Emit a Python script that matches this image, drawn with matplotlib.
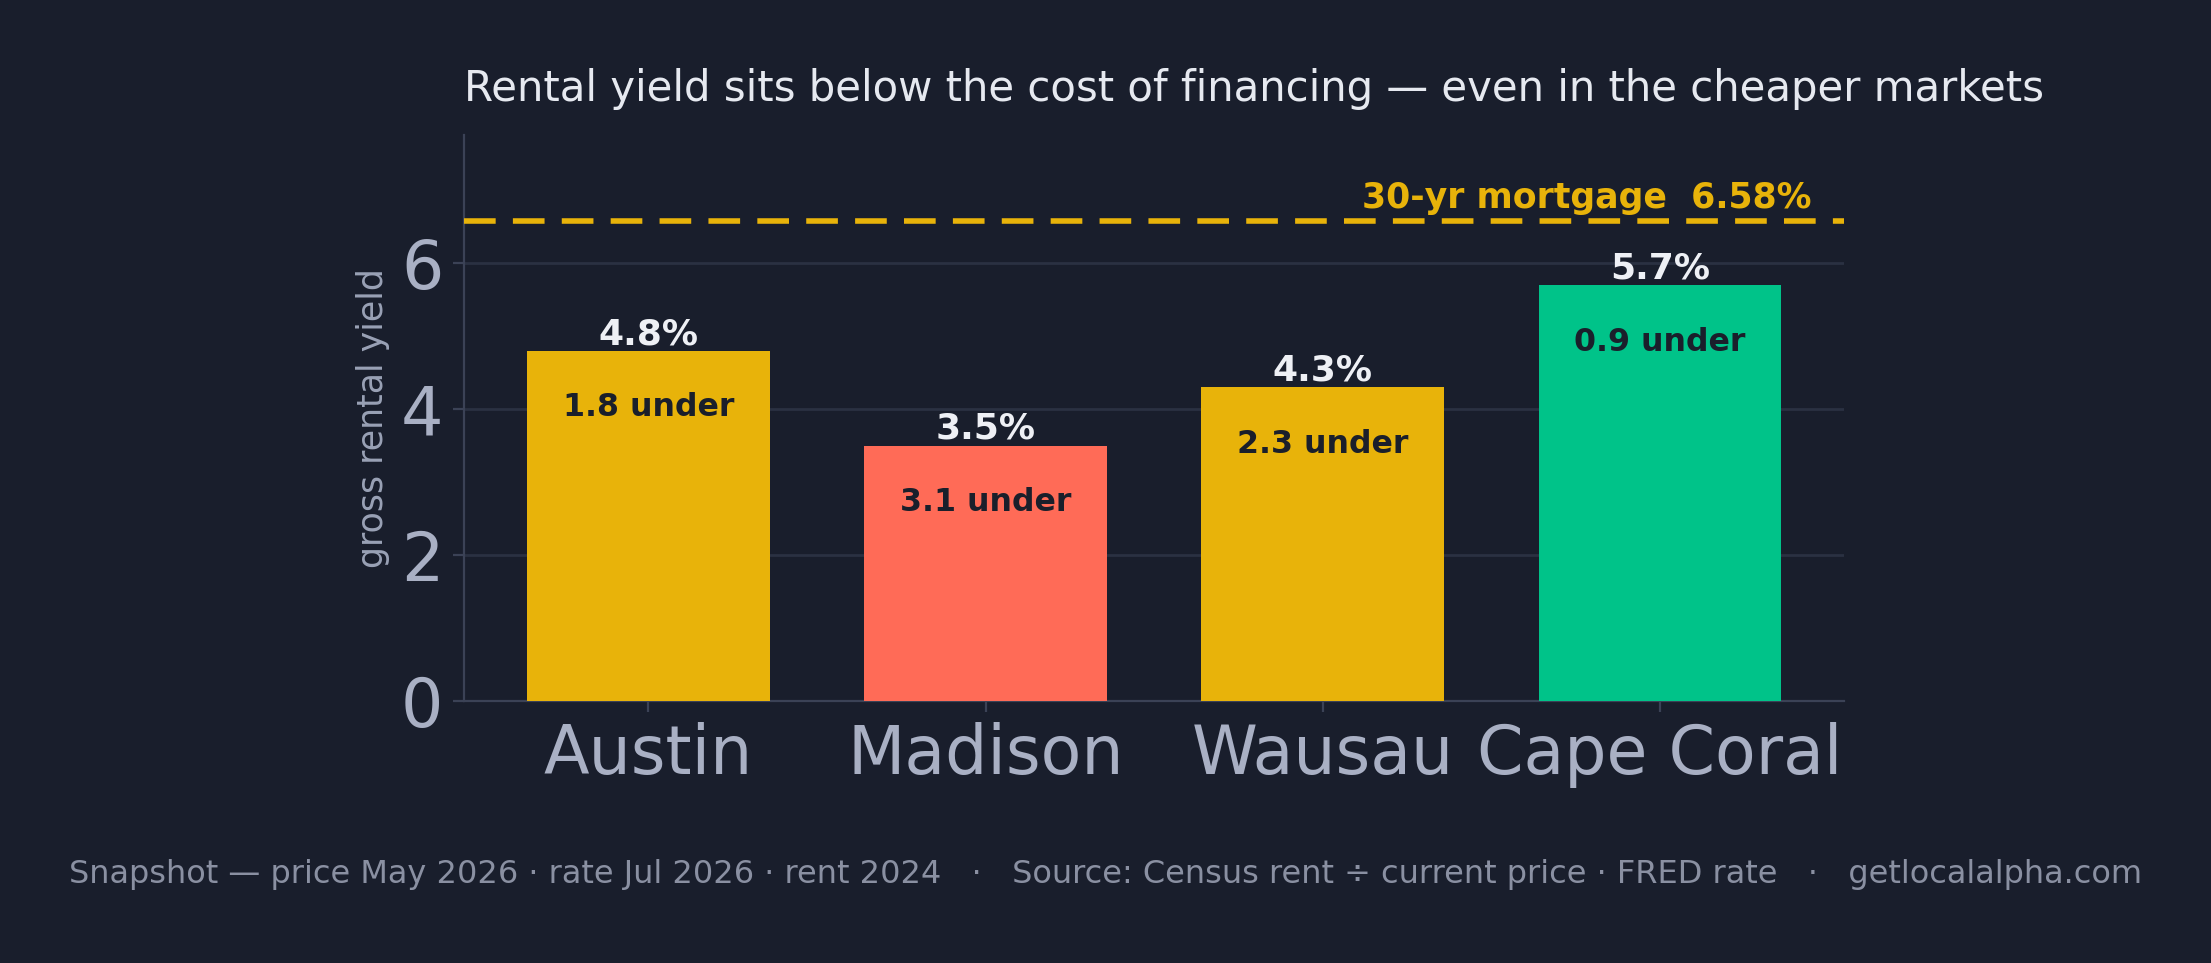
import matplotlib
matplotlib.use("Agg")
import matplotlib.pyplot as plt

cities = ["Austin", "Madison", "Wausau", "Cape Coral"]
yields = [4.8, 3.5, 4.3, 5.7]
gaps = [1.8, 3.1, 2.3, 0.9]
bar_colors = ["#E8B30A", "#FF6B57", "#E8B30A", "#00C389"]
mortgage = 6.58

bg = "#191E2C"
fig = plt.figure(figsize=(11.055, 4.815), dpi=200, facecolor=bg)
ax = fig.add_axes([0.210, 0.272, 0.624, 0.588], facecolor=bg)

x = range(len(cities))
ax.bar(x, yields, width=0.72, color=bar_colors, zorder=3)
ax.axhline(mortgage, color="#E8B30A", lw=2, dashes=(5.7, 3.1), zorder=4)
ax.text(3.45, mortgage + 0.08, "30-yr mortgage  6.58%", color="#E8B30A",
        fontsize=12.5, fontweight="bold", ha="right", va="bottom")

for i in x:
    ax.text(i, yields[i] + 0.0, f"{yields[i]:.1f}%", color="#EEF0F5",
            fontsize=13, fontweight="bold", ha="center", va="bottom", zorder=5)
    ax.text(i, yields[i] - 0.78, f"{gaps[i]:.1f} under", color="#1A1F2B",
            fontsize=11.4, fontweight="bold", ha="center", va="center", zorder=5)

ax.set_ylim(0, mortgage * 1.18)
ax.set_yticks([0, 2, 4, 6])
ax.set_xticks(list(x))
ax.set_xticklabels(cities)
ax.tick_params(axis="both", colors="#3B4256", labelcolor="#A9B0C4", labelsize=24, length=4)
ax.grid(axis="y", color="#2A3142", lw=1, zorder=0)
for s in ["top", "right"]:
    ax.spines[s].set_visible(False)
for s in ["left", "bottom"]:
    ax.spines[s].set_color("#3B4256")
ax.set_ylabel("gross rental yield", color="#9AA2B6", fontsize=12.5)
ax.set_title("Rental yield sits below the cost of financing \u2014 even in the cheaper markets",
             loc="left", color="#E6E9F0", fontsize=15.1, pad=12)

fig.text(0.5, 0.092,
         "Snapshot \u2014 price May 2026 \u00b7 rate Jul 2026 \u00b7 rent 2024   \u00b7   "
         "Source: Census rent \u00f7 current price \u00b7 FRED rate   \u00b7   getlocalalpha.com",
         color="#8A90A2", fontsize=11.5, ha="center", va="center")

fig.savefig("out.png", dpi=200, facecolor=bg)
